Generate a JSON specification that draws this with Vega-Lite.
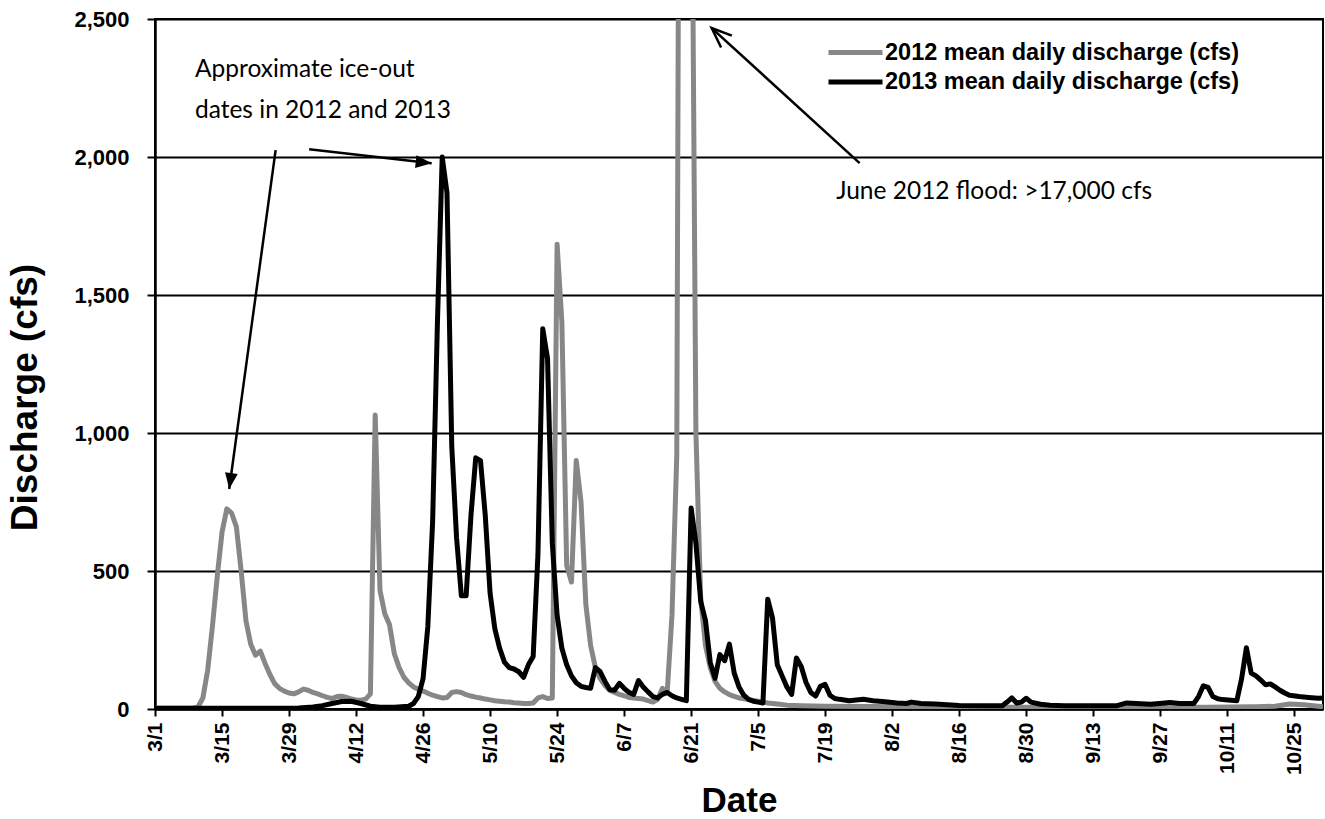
{
  "$schema": "https://vega.github.io/schema/vega-lite/v6.json",
  "width": 1168,
  "height": 690,
  "autosize": {"type": "none"},
  "padding": {"left": 155, "top": 19, "right": 2, "bottom": 110},
  "background": "white",
  "config": {
    "view": {"stroke": "black", "strokeWidth": 2},
    "font": "Liberation Sans",
    "axis": {"labelFont": "Liberation Sans", "titleFont": "Liberation Sans", "labelColor": "black", "titleColor": "black"}
  },
  "datasets": {
    "flow": [
      {"year":2012,"day":0,"cfs":3},{"year":2012,"day":5,"cfs":3},{"year":2012,"day":8,"cfs":4},{"year":2012,"day":9,"cfs":8},
      {"year":2012,"day":10,"cfs":40},{"year":2012,"day":11,"cfs":140},{"year":2012,"day":12,"cfs":300},{"year":2012,"day":13,"cfs":480},
      {"year":2012,"day":14,"cfs":640},{"year":2012,"day":15,"cfs":725},{"year":2012,"day":16,"cfs":710},{"year":2012,"day":17,"cfs":660},
      {"year":2012,"day":18,"cfs":500},{"year":2012,"day":19,"cfs":320},{"year":2012,"day":20,"cfs":235},{"year":2012,"day":21,"cfs":195},
      {"year":2012,"day":22,"cfs":210},{"year":2012,"day":23,"cfs":165},{"year":2012,"day":24,"cfs":125},{"year":2012,"day":25,"cfs":92},
      {"year":2012,"day":26,"cfs":75},{"year":2012,"day":27,"cfs":65},{"year":2012,"day":28,"cfs":58},{"year":2012,"day":29,"cfs":55},
      {"year":2012,"day":30,"cfs":62},{"year":2012,"day":31,"cfs":72},{"year":2012,"day":32,"cfs":68},{"year":2012,"day":33,"cfs":60},
      {"year":2012,"day":34,"cfs":55},{"year":2012,"day":35,"cfs":48},{"year":2012,"day":36,"cfs":42},{"year":2012,"day":37,"cfs":38},
      {"year":2012,"day":38,"cfs":45},{"year":2012,"day":39,"cfs":46},{"year":2012,"day":40,"cfs":42},{"year":2012,"day":41,"cfs":36},
      {"year":2012,"day":42,"cfs":33},{"year":2012,"day":43,"cfs":32},{"year":2012,"day":44,"cfs":36},{"year":2012,"day":45,"cfs":55},
      {"year":2012,"day":46,"cfs":1065},{"year":2012,"day":47,"cfs":430},{"year":2012,"day":48,"cfs":345},{"year":2012,"day":49,"cfs":305},
      {"year":2012,"day":50,"cfs":200},{"year":2012,"day":51,"cfs":150},{"year":2012,"day":52,"cfs":115},{"year":2012,"day":53,"cfs":95},
      {"year":2012,"day":54,"cfs":80},{"year":2012,"day":55,"cfs":72},{"year":2012,"day":56,"cfs":65},{"year":2012,"day":57,"cfs":57},
      {"year":2012,"day":58,"cfs":50},{"year":2012,"day":59,"cfs":45},{"year":2012,"day":60,"cfs":40},{"year":2012,"day":61,"cfs":42},
      {"year":2012,"day":62,"cfs":60},{"year":2012,"day":63,"cfs":63},{"year":2012,"day":64,"cfs":60},{"year":2012,"day":65,"cfs":52},
      {"year":2012,"day":66,"cfs":47},{"year":2012,"day":67,"cfs":43},{"year":2012,"day":68,"cfs":40},{"year":2012,"day":69,"cfs":36},
      {"year":2012,"day":70,"cfs":33},{"year":2012,"day":71,"cfs":30},{"year":2012,"day":72,"cfs":28},{"year":2012,"day":73,"cfs":26},
      {"year":2012,"day":74,"cfs":25},{"year":2012,"day":75,"cfs":23},{"year":2012,"day":76,"cfs":22},{"year":2012,"day":77,"cfs":20},
      {"year":2012,"day":78,"cfs":20},{"year":2012,"day":79,"cfs":22},{"year":2012,"day":80,"cfs":40},{"year":2012,"day":81,"cfs":45},
      {"year":2012,"day":82,"cfs":38},{"year":2012,"day":83,"cfs":40},{"year":2012,"day":84,"cfs":1684},{"year":2012,"day":85,"cfs":1400},
      {"year":2012,"day":86,"cfs":520},{"year":2012,"day":87,"cfs":460},{"year":2012,"day":88,"cfs":900},{"year":2012,"day":89,"cfs":750},
      {"year":2012,"day":90,"cfs":380},{"year":2012,"day":91,"cfs":230},{"year":2012,"day":92,"cfs":150},{"year":2012,"day":93,"cfs":110},
      {"year":2012,"day":94,"cfs":85},{"year":2012,"day":95,"cfs":68},{"year":2012,"day":96,"cfs":60},{"year":2012,"day":97,"cfs":53},
      {"year":2012,"day":98,"cfs":48},{"year":2012,"day":99,"cfs":42},{"year":2012,"day":100,"cfs":40},{"year":2012,"day":101,"cfs":38},
      {"year":2012,"day":102,"cfs":36},{"year":2012,"day":103,"cfs":30},{"year":2012,"day":104,"cfs":25},{"year":2012,"day":105,"cfs":35},
      {"year":2012,"day":106,"cfs":75},{"year":2012,"day":107,"cfs":60},{"year":2012,"day":108,"cfs":340},{"year":2012,"day":109,"cfs":920},
      {"year":2012,"day":110,"cfs":6000},{"year":2012,"day":111,"cfs":17500},{"year":2012,"day":112,"cfs":3500},{"year":2012,"day":113,"cfs":1000},
      {"year":2012,"day":114,"cfs":400},{"year":2012,"day":115,"cfs":230},{"year":2012,"day":116,"cfs":150},{"year":2012,"day":117,"cfs":100},
      {"year":2012,"day":118,"cfs":75},{"year":2012,"day":119,"cfs":62},{"year":2012,"day":120,"cfs":52},{"year":2012,"day":121,"cfs":46},
      {"year":2012,"day":122,"cfs":40},{"year":2012,"day":124,"cfs":34},{"year":2012,"day":126,"cfs":28},{"year":2012,"day":128,"cfs":22},
      {"year":2012,"day":130,"cfs":18},{"year":2012,"day":132,"cfs":14},{"year":2012,"day":135,"cfs":12},{"year":2012,"day":140,"cfs":10},
      {"year":2012,"day":150,"cfs":9},{"year":2012,"day":160,"cfs":8},{"year":2012,"day":170,"cfs":7},{"year":2012,"day":180,"cfs":6},
      {"year":2012,"day":190,"cfs":5},{"year":2012,"day":200,"cfs":5},{"year":2012,"day":210,"cfs":5},{"year":2012,"day":220,"cfs":6},
      {"year":2012,"day":230,"cfs":8},{"year":2012,"day":234,"cfs":10},{"year":2012,"day":237,"cfs":18},{"year":2012,"day":240,"cfs":15},
      {"year":2012,"day":244,"cfs":8},
      {"year":2013,"day":0,"cfs":3},{"year":2013,"day":10,"cfs":3},{"year":2013,"day":20,"cfs":3},{"year":2013,"day":30,"cfs":4},
      {"year":2013,"day":33,"cfs":7},{"year":2013,"day":35,"cfs":12},{"year":2013,"day":37,"cfs":20},{"year":2013,"day":39,"cfs":27},
      {"year":2013,"day":41,"cfs":28},{"year":2013,"day":43,"cfs":20},{"year":2013,"day":45,"cfs":10},{"year":2013,"day":47,"cfs":6},
      {"year":2013,"day":50,"cfs":6},{"year":2013,"day":53,"cfs":10},{"year":2013,"day":54,"cfs":20},{"year":2013,"day":55,"cfs":45},
      {"year":2013,"day":56,"cfs":110},{"year":2013,"day":57,"cfs":300},{"year":2013,"day":58,"cfs":680},{"year":2013,"day":59,"cfs":1400},
      {"year":2013,"day":60,"cfs":2000},{"year":2013,"day":61,"cfs":1870},{"year":2013,"day":62,"cfs":950},{"year":2013,"day":63,"cfs":620},
      {"year":2013,"day":64,"cfs":410},{"year":2013,"day":65,"cfs":410},{"year":2013,"day":66,"cfs":700},{"year":2013,"day":67,"cfs":910},
      {"year":2013,"day":68,"cfs":900},{"year":2013,"day":69,"cfs":700},{"year":2013,"day":70,"cfs":420},{"year":2013,"day":71,"cfs":290},
      {"year":2013,"day":72,"cfs":220},{"year":2013,"day":73,"cfs":170},{"year":2013,"day":74,"cfs":150},{"year":2013,"day":75,"cfs":145},
      {"year":2013,"day":76,"cfs":135},{"year":2013,"day":77,"cfs":115},{"year":2013,"day":78,"cfs":160},{"year":2013,"day":79,"cfs":190},
      {"year":2013,"day":80,"cfs":560},{"year":2013,"day":81,"cfs":1378},{"year":2013,"day":82,"cfs":1270},{"year":2013,"day":83,"cfs":600},
      {"year":2013,"day":84,"cfs":340},{"year":2013,"day":85,"cfs":220},{"year":2013,"day":86,"cfs":160},{"year":2013,"day":87,"cfs":120},
      {"year":2013,"day":88,"cfs":95},{"year":2013,"day":89,"cfs":82},{"year":2013,"day":90,"cfs":78},{"year":2013,"day":91,"cfs":75},
      {"year":2013,"day":92,"cfs":150},{"year":2013,"day":93,"cfs":135},{"year":2013,"day":94,"cfs":100},{"year":2013,"day":95,"cfs":70},
      {"year":2013,"day":96,"cfs":68},{"year":2013,"day":97,"cfs":93},{"year":2013,"day":98,"cfs":75},{"year":2013,"day":99,"cfs":60},
      {"year":2013,"day":100,"cfs":53},{"year":2013,"day":101,"cfs":103},{"year":2013,"day":102,"cfs":80},{"year":2013,"day":103,"cfs":62},
      {"year":2013,"day":104,"cfs":45},{"year":2013,"day":105,"cfs":40},{"year":2013,"day":106,"cfs":53},{"year":2013,"day":107,"cfs":60},
      {"year":2013,"day":108,"cfs":48},{"year":2013,"day":109,"cfs":40},{"year":2013,"day":110,"cfs":35},{"year":2013,"day":111,"cfs":30},
      {"year":2013,"day":112,"cfs":728},{"year":2013,"day":113,"cfs":600},{"year":2013,"day":114,"cfs":390},{"year":2013,"day":115,"cfs":320},
      {"year":2013,"day":116,"cfs":168},{"year":2013,"day":117,"cfs":111},{"year":2013,"day":118,"cfs":197},{"year":2013,"day":119,"cfs":175},
      {"year":2013,"day":120,"cfs":235},{"year":2013,"day":121,"cfs":130},{"year":2013,"day":122,"cfs":80},{"year":2013,"day":123,"cfs":50},
      {"year":2013,"day":124,"cfs":35},{"year":2013,"day":125,"cfs":28},{"year":2013,"day":126,"cfs":25},{"year":2013,"day":127,"cfs":22},
      {"year":2013,"day":128,"cfs":398},{"year":2013,"day":129,"cfs":330},{"year":2013,"day":130,"cfs":160},{"year":2013,"day":131,"cfs":120},
      {"year":2013,"day":132,"cfs":80},{"year":2013,"day":133,"cfs":53},{"year":2013,"day":134,"cfs":185},{"year":2013,"day":135,"cfs":154},
      {"year":2013,"day":136,"cfs":96},{"year":2013,"day":137,"cfs":60},{"year":2013,"day":138,"cfs":47},{"year":2013,"day":139,"cfs":82},
      {"year":2013,"day":140,"cfs":89},{"year":2013,"day":141,"cfs":50},{"year":2013,"day":142,"cfs":38},{"year":2013,"day":143,"cfs":35},
      {"year":2013,"day":145,"cfs":30},{"year":2013,"day":148,"cfs":35},{"year":2013,"day":150,"cfs":30},{"year":2013,"day":152,"cfs":27},
      {"year":2013,"day":155,"cfs":22},{"year":2013,"day":157,"cfs":20},{"year":2013,"day":158,"cfs":25},{"year":2013,"day":160,"cfs":20},
      {"year":2013,"day":163,"cfs":18},{"year":2013,"day":168,"cfs":13},{"year":2013,"day":173,"cfs":12},{"year":2013,"day":177,"cfs":12},
      {"year":2013,"day":178,"cfs":25},{"year":2013,"day":179,"cfs":40},{"year":2013,"day":180,"cfs":22},{"year":2013,"day":181,"cfs":25},
      {"year":2013,"day":182,"cfs":39},{"year":2013,"day":183,"cfs":25},{"year":2013,"day":185,"cfs":17},{"year":2013,"day":187,"cfs":14},
      {"year":2013,"day":190,"cfs":12},{"year":2013,"day":197,"cfs":12},{"year":2013,"day":201,"cfs":12},{"year":2013,"day":203,"cfs":22},
      {"year":2013,"day":205,"cfs":20},{"year":2013,"day":208,"cfs":17},{"year":2013,"day":211,"cfs":22},{"year":2013,"day":212,"cfs":24},
      {"year":2013,"day":214,"cfs":20},{"year":2013,"day":217,"cfs":20},{"year":2013,"day":218,"cfs":45},{"year":2013,"day":219,"cfs":84},
      {"year":2013,"day":220,"cfs":78},{"year":2013,"day":221,"cfs":45},{"year":2013,"day":222,"cfs":37},{"year":2013,"day":223,"cfs":34},
      {"year":2013,"day":226,"cfs":30},{"year":2013,"day":227,"cfs":110},{"year":2013,"day":228,"cfs":222},{"year":2013,"day":229,"cfs":130},
      {"year":2013,"day":230,"cfs":120},{"year":2013,"day":231,"cfs":105},{"year":2013,"day":232,"cfs":88},{"year":2013,"day":233,"cfs":91},
      {"year":2013,"day":234,"cfs":80},{"year":2013,"day":235,"cfs":68},{"year":2013,"day":236,"cfs":58},{"year":2013,"day":237,"cfs":50},
      {"year":2013,"day":239,"cfs":45},{"year":2013,"day":241,"cfs":42},{"year":2013,"day":243,"cfs":39},{"year":2013,"day":244,"cfs":40}
    ],
    "notes": [
      {"day": 8.35, "cfs": 2289, "label": "Approximate ice-out"},
      {"day": 8.35, "cfs": 2140, "label": "dates in 2012 and 2013"},
      {"day": 142.3, "cfs": 1848, "label": "June 2012 flood: >17,000 cfs"}
    ],
    "arrows": [
      {"arrow": "ice2012", "day": 25.2, "cfs": 2025, "day2": 15.5, "cfs2": 797},
      {"arrow": "ice2013", "day": 32.2, "cfs": 2028, "day2": 57.8, "cfs2": 1977},
      {"arrow": "flood", "day": 147.2, "cfs": 1978, "day2": 116.3, "cfs2": 2467}
    ]
  },
  "layer": [
    {
      "data": {"name": "flow"},
      "mark": {"type": "line", "clip": true, "strokeWidth": 5, "strokeJoin": "round"},
      "encoding": {
        "x": {
          "field": "day", "type": "quantitative",
          "scale": {"domain": [0, 244], "nice": false, "zero": false},
          "axis": {
            "title": "Date",
            "values": [0,14,28,42,56,70,84,98,112,126,140,154,168,182,196,210,224,238],
            "labelExpr": "timeFormat(datetime(2013, 2, 1 + datum.value), '%-m/%-d')",
            "labelAngle": -90, "labelFontSize": 21, "labelFontWeight": "bold",
            "labelPadding": 6, "labelFlush": false, "labelOverlap": false, "labelBound": false,
            "tickColor": "black", "tickSize": 7, "tickWidth": 2,
            "domainColor": "black", "domainWidth": 2.5, "grid": false,
            "titleFontSize": 35, "titleFontWeight": "bold",
            "titleBaseline": "alphabetic", "titleY": 102
          }
        },
        "y": {
          "field": "cfs", "type": "quantitative",
          "scale": {"domain": [0, 2500], "nice": false},
          "axis": {
            "title": "Discharge (cfs)",
            "values": [0, 500, 1000, 1500, 2000, 2500],
            "labelExpr": "format(datum.value, ',d')",
            "labelFontSize": 22, "labelFontWeight": "bold", "labelPadding": 18,
            "tickColor": "black", "tickSize": 8, "tickWidth": 2,
            "domainColor": "black", "domainWidth": 2.5,
            "grid": true, "gridColor": "black", "gridWidth": 2,
            "titleFontSize": 37, "titleFontWeight": "bold",
            "titleX": -130, "titleY": 378, "titleBaseline": "middle"
          }
        },
        "color": {
          "field": "year", "type": "nominal",
          "scale": {"domain": [2012, 2013], "range": ["#878787", "#000000"]},
          "legend": {
            "orient": "none", "legendX": 705, "legendY": 21,
            "title": null, "padding": 0,
            "symbolType": "M-4.4,0H1", "symbolSize": 400, "symbolStrokeWidth": 5,
            "symbolOffset": 0,
            "labelExpr": "datum.label + ' mean daily discharge (cfs)'",
            "labelFont": "Liberation Sans", "labelFontSize": 23.5, "labelFontWeight": "bold",
            "labelColor": "black", "labelOffset": 0, "rowPadding": 5.5, "labelLimit": 600
          }
        }
      }
    },
    {
      "data": {"name": "arrows"},
      "mark": {"type": "rule", "color": "black", "strokeWidth": 2.5},
      "encoding": {
        "x": {"field": "day", "type": "quantitative"},
        "y": {"field": "cfs", "type": "quantitative"},
        "x2": {"field": "day2"},
        "y2": {"field": "cfs2"}
      }
    },
    {
      "data": {"name": "arrows"},
      "transform": [{"filter": "datum.arrow == 'ice2012'"}],
      "mark": {"type": "point", "shape": "M0,0L-0.8,2L0.8,2Z", "size": 256, "filled": true, "color": "black", "opacity": 1, "angle": 188},
      "encoding": {
        "x": {"field": "day2", "type": "quantitative"},
        "y": {"field": "cfs2", "type": "quantitative"}
      }
    },
    {
      "data": {"name": "arrows"},
      "transform": [{"filter": "datum.arrow == 'ice2013'"}],
      "mark": {"type": "point", "shape": "M0,0L-0.8,2L0.8,2Z", "size": 256, "filled": true, "color": "black", "opacity": 1, "angle": 96.5},
      "encoding": {
        "x": {"field": "day2", "type": "quantitative"},
        "y": {"field": "cfs2", "type": "quantitative"}
      }
    },
    {
      "data": {"name": "arrows"},
      "transform": [{"filter": "datum.arrow == 'flood'"}],
      "mark": {"type": "point", "shape": "M-0.8,2L0,0L0.8,2", "size": 400, "filled": false, "color": "black", "opacity": 1, "strokeWidth": 2.5, "angle": 312.4},
      "encoding": {
        "x": {"field": "day2", "type": "quantitative"},
        "y": {"field": "cfs2", "type": "quantitative"}
      }
    },
    {
      "data": {"name": "notes"},
      "mark": {"type": "text", "font": "Lato", "fontSize": 24.5, "align": "left", "baseline": "alphabetic", "color": "black"},
      "encoding": {
        "x": {"field": "day", "type": "quantitative"},
        "y": {"field": "cfs", "type": "quantitative"},
        "text": {"field": "label"}
      }
    }
  ]
}
